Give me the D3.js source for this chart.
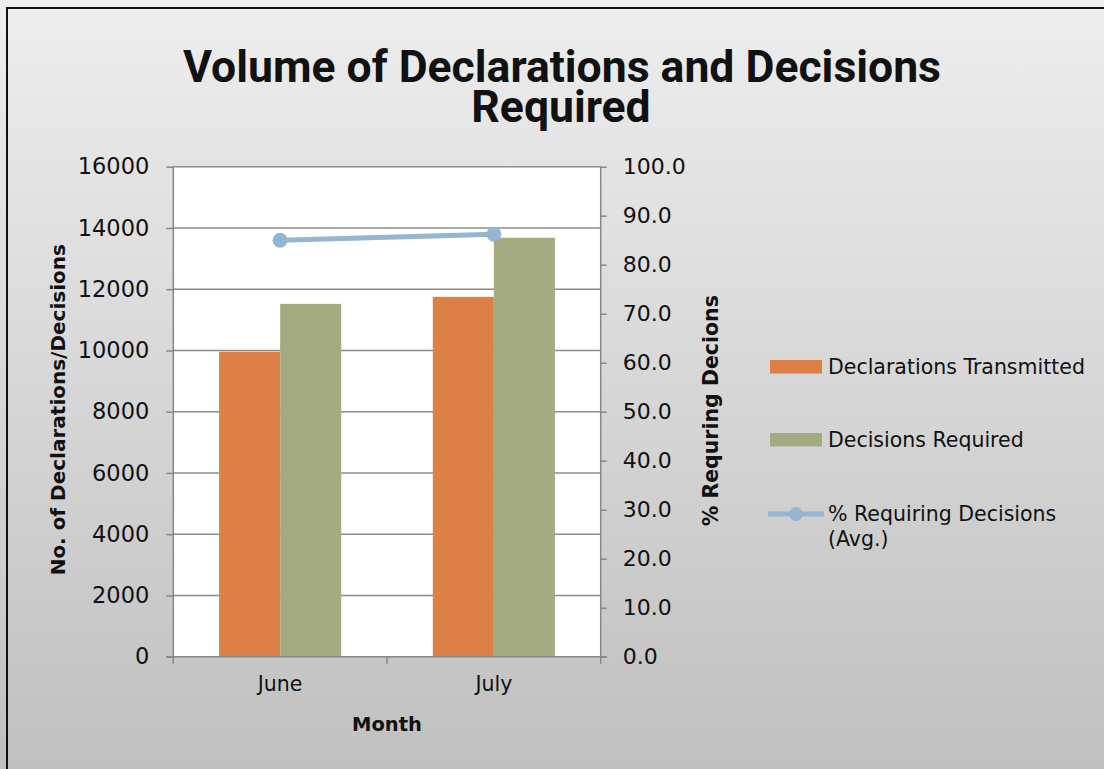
<!DOCTYPE html>
<html lang="en">
<head>
  <meta charset="UTF-8">
  <title>Volume of Declarations and Decisions Required</title>
  <style>
    html, body { margin: 0; padding: 0; background: #fff; }
    svg { display: block; }
    text { fill: #111; }
  </style>
</head>
<body>
  <svg id="svg" width="1104" height="769"></svg>
  <script src="https://d3js.org/d3.v7.min.js"></script>
  <script>
    // chart values
    const months = ['June', 'July']
    const declarations = [9960, 11750]
    const decisions = [11520, 13680]
    const pctRequiring = [85.0, 86.2]
    const leftTicks = [0, 2000, 4000, 6000, 8000, 10000, 12000, 14000, 16000]
    const rightTicks = [0, 10, 20, 30, 40, 50, 60, 70, 80, 90, 100]
    const seriesNames = ['Declarations Transmitted', 'Decisions Required']
    const seriesColors = ['#dd8047', '#a5ab81']
    const lineColor = '#94b6d2'

    const font = "'DejaVu Sans', sans-serif"
    const plot = { left: 173.3, right: 600.7, top: 166.7, bottom: 656.7 }

    const svg = d3.select('#svg')

    // background gradient
    const grad = svg.append('defs').append('linearGradient')
      .attr('id', 'bg').attr('x1', 0).attr('y1', 0).attr('x2', 0).attr('y2', 1)
    grad.append('stop').attr('offset', '0%').attr('stop-color', '#eeeeee')
    grad.append('stop').attr('offset', '100%').attr('stop-color', '#c0c0c0')

    svg.append('rect')
      .attr('x', 0).attr('y', 0).attr('width', 1104).attr('height', 769)
      .attr('fill', 'url(#bg)')
    svg.append('rect')
      .attr('x', 7).attr('y', 8).attr('width', 1110).attr('height', 780)
      .attr('fill', 'none').attr('stroke', '#111').attr('stroke-width', 2)

    // scales
    const xscale = d3.scaleBand()
      .domain(months)
      .range([plot.left, plot.right])
      .padding(0)
    const inner = d3.scaleBand()
      .domain(seriesNames)
      .range([0, xscale.bandwidth()])
      .paddingInner(0)
      .paddingOuter(0.75)
    const yLeft = d3.scaleLinear().domain([0, 16000]).range([plot.bottom, plot.top])
    const yRight = d3.scaleLinear().domain([0, 100]).range([plot.bottom, plot.top])

    // plot area
    svg.append('rect')
      .attr('x', plot.left).attr('y', plot.top)
      .attr('width', plot.right - plot.left).attr('height', plot.bottom - plot.top)
      .attr('fill', '#fff')

    // gridlines
    svg.append('g')
      .selectAll('line')
      .data(leftTicks.filter(d => d > 0))
      .enter()
      .append('line')
      .attr('x1', plot.left).attr('x2', plot.right)
      .attr('y1', d => yLeft(d)).attr('y2', d => yLeft(d))
      .attr('stroke', '#8c8c8c').attr('stroke-width', 1.5)

    // bars
    const rows = months.map((m, i) => ({ month: m, values: [declarations[i], decisions[i]] }))
    const barGroup = svg.append('g')
    barGroup.selectAll('g')
      .data(rows)
      .enter()
      .append('g')
      .attr('transform', d => `translate(${xscale(d.month)}, 0)`)
      .selectAll('rect')
      .data(d => d.values.map((v, j) => ({ name: seriesNames[j], value: v, color: seriesColors[j] })))
      .enter()
      .append('rect')
      .attr('x', d => inner(d.name))
      .attr('y', d => yLeft(d.value))
      .attr('width', inner.bandwidth())
      .attr('height', d => plot.bottom - yLeft(d.value))
      .attr('fill', d => d.color)

    // axes
    const axisColor = '#878787'
    const leftAxis = d3.axisLeft(yLeft).tickValues(leftTicks).tickSize(7).tickPadding(17)
      .tickFormat(d3.format('d'))
    const gl = svg.append('g').attr('transform', `translate(${plot.left}, 0)`).call(leftAxis)
    const rightAxis = d3.axisRight(yRight).tickValues(rightTicks).tickSize(6).tickPadding(16)
      .tickFormat(d3.format('.1f'))
    const gr = svg.append('g').attr('transform', `translate(${plot.right}, 0)`).call(rightAxis)
    const bottomAxis = d3.axisBottom(xscale).tickSize(0).tickPadding(20)
    const gb = svg.append('g').attr('transform', `translate(0, ${plot.bottom})`).call(bottomAxis)

    ;[gl, gr, gb].forEach(g => {
      g.select('.domain').attr('stroke', axisColor).attr('stroke-width', 1.5)
      g.selectAll('.tick line').attr('stroke', axisColor).attr('stroke-width', 1.5)
      g.selectAll('text').attr('font-family', font).attr('fill', '#111')
    })
    gl.selectAll('text').attr('font-size', 22.5)
    gr.selectAll('text').attr('font-size', 22)
    gb.selectAll('text').attr('font-size', 20.5)
    gl.select('.domain').attr('d', `M0,${plot.top}V${plot.bottom}`)
    gr.select('.domain').attr('d', `M0,${plot.top}V${plot.bottom}`)
    gb.select('.domain').attr('d', `M${plot.left - 7},0H${plot.right + 6}`)
    gb.selectAll('.tick text').attr('dy', '0.71em')

    // category boundary ticks on the bottom axis
    const bounds = [plot.left].concat(months.map(m => xscale(m) + xscale.bandwidth()))
    gb.append('g').selectAll('line')
      .data(bounds)
      .enter()
      .append('line')
      .attr('x1', d => d).attr('x2', d => d)
      .attr('y1', 0).attr('y2', 7)
      .attr('stroke', axisColor).attr('stroke-width', 1.5)

    // line series
    const pts = months.map((m, i) => ({ x: xscale(m) + xscale.bandwidth() / 2, y: yRight(pctRequiring[i]) }))
    svg.append('path')
      .attr('d', d3.line().x(d => d.x).y(d => d.y)(pts))
      .attr('fill', 'none').attr('stroke', lineColor).attr('stroke-width', 5)
    svg.append('g').selectAll('circle')
      .data(pts)
      .enter()
      .append('circle')
      .attr('cx', d => d.x).attr('cy', d => d.y).attr('r', 7.5)
      .attr('fill', lineColor)

    // titles
    const titleFont = "Roboto, sans-serif"
    svg.append('text')
      .attr('x', 562).attr('y', 82)
      .attr('text-anchor', 'middle')
      .attr('font-family', titleFont).attr('font-weight', 700).attr('font-size', 44.5)
      .text('Volume of Declarations and Decisions')
    svg.append('text')
      .attr('x', 561).attr('y', 122)
      .attr('text-anchor', 'middle')
      .attr('font-family', titleFont).attr('font-weight', 700).attr('font-size', 44.5)
      .text('Required')

    svg.append('text')
      .attr('transform', `translate(65, ${(plot.top + plot.bottom) / 2 - 2}) rotate(-90)`)
      .attr('text-anchor', 'middle')
      .attr('font-family', font).attr('font-weight', 'bold').attr('font-size', 20)
      .text('No. of Declarations/Decisions')
    svg.append('text')
      .attr('transform', `translate(718, ${(plot.top + plot.bottom) / 2 - 1}) rotate(-90)`)
      .attr('text-anchor', 'middle')
      .attr('font-family', font).attr('font-weight', 'bold').attr('font-size', 20.5)
      .text('% Requring Decions')
    svg.append('text')
      .attr('x', (plot.left + plot.right) / 2).attr('y', 731)
      .attr('text-anchor', 'middle')
      .attr('font-family', font).attr('font-weight', 'bold').attr('font-size', 19.5)
      .text('Month')

    // legend
    const legend = svg.append('g')
    seriesNames.forEach((name, i) => {
      const y = 360 + i * 73
      legend.append('rect')
        .attr('x', 770).attr('y', y).attr('width', 52).attr('height', 13.5)
        .attr('fill', seriesColors[i])
      legend.append('text')
        .attr('x', 828).attr('y', y + 14)
        .attr('font-family', font).attr('font-size', 20.5)
        .text(name)
    })
    legend.append('line')
      .attr('x1', 768).attr('x2', 824).attr('y1', 514).attr('y2', 514)
      .attr('stroke', lineColor).attr('stroke-width', 5)
    legend.append('circle')
      .attr('cx', 796).attr('cy', 514).attr('r', 7).attr('fill', lineColor)
    legend.append('text')
      .attr('x', 828).attr('y', 521)
      .attr('font-family', font).attr('font-size', 20.5)
      .text('% Requiring Decisions')
    legend.append('text')
      .attr('x', 828).attr('y', 546)
      .attr('font-family', font).attr('font-size', 20.5)
      .text('(Avg.)')
  </script>
</body>
</html>
